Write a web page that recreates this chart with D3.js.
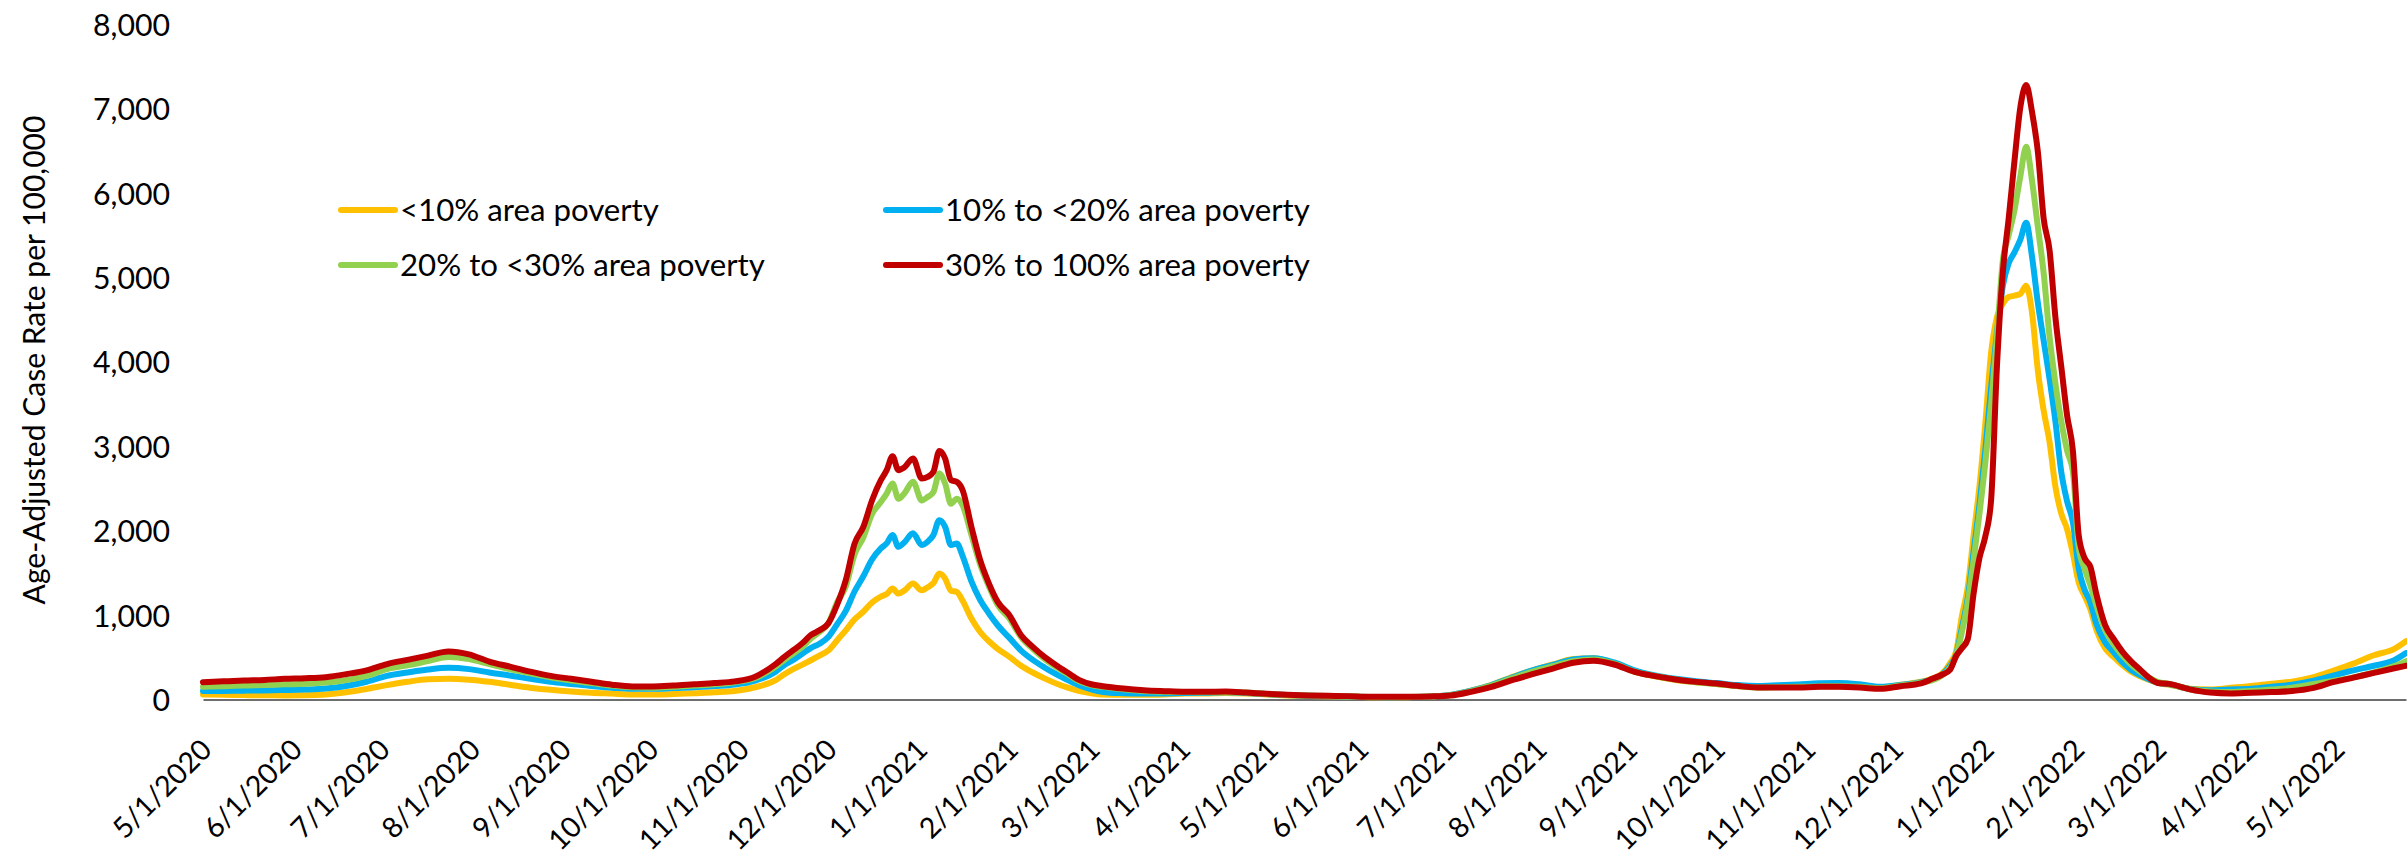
<!DOCTYPE html>
<html><head><meta charset="utf-8">
<script src="https://cdn.jsdelivr.net/npm/d3@7"></script>
<style>
body{margin:0;background:#fff}
svg{display:block}
</style>
</head><body>
<svg id="chart" width="2407" height="861"></svg>
<script>
// ---------- DATA ----------
const dates = [
  "2020-05-01","2020-05-08","2020-05-15","2020-05-22","2020-05-29","2020-06-05","2020-06-12","2020-06-19","2020-06-26","2020-07-03",
  "2020-07-10","2020-07-17","2020-07-24","2020-07-31","2020-08-07","2020-08-14","2020-08-21","2020-08-28","2020-09-04","2020-09-11",
  "2020-09-18","2020-09-25","2020-10-02","2020-10-09","2020-10-16","2020-10-23","2020-10-30","2020-11-06","2020-11-13",
  "2020-11-16","2020-11-19","2020-11-22","2020-11-25","2020-11-28","2020-12-01","2020-12-04","2020-12-07","2020-12-10","2020-12-13",
  "2020-12-16","2020-12-19","2020-12-21","2020-12-23","2020-12-25","2020-12-27","2020-12-30","2021-01-02","2021-01-04","2021-01-06",
  "2021-01-08","2021-01-10","2021-01-12","2021-01-14","2021-01-16","2021-01-19","2021-01-22","2021-01-25","2021-01-28","2021-02-01",
  "2021-02-05","2021-02-09","2021-02-13","2021-02-17","2021-02-21","2021-02-25","2021-03-01",
  "2021-03-05","2021-03-12","2021-03-19","2021-03-26","2021-04-02","2021-04-09","2021-04-16","2021-04-23","2021-04-30","2021-05-07",
  "2021-05-14","2021-05-21","2021-05-28","2021-06-04","2021-06-11","2021-06-18","2021-06-25","2021-07-02","2021-07-09","2021-07-16",
  "2021-07-23","2021-07-30","2021-08-06","2021-08-13","2021-08-20","2021-08-27","2021-09-03","2021-09-10","2021-09-17","2021-09-24",
  "2021-10-01","2021-10-08","2021-10-15","2021-10-22","2021-10-29","2021-11-05","2021-11-12","2021-11-19","2021-11-26","2021-12-03",
  "2021-12-10",
  "2021-12-14","2021-12-17","2021-12-20","2021-12-22","2021-12-24","2021-12-26","2021-12-28","2021-12-30","2022-01-01","2022-01-03",
  "2022-01-05","2022-01-07","2022-01-09","2022-01-11","2022-01-13","2022-01-15","2022-01-17","2022-01-19","2022-01-21","2022-01-23",
  "2022-01-25","2022-01-27","2022-01-29","2022-01-31","2022-02-02","2022-02-04","2022-02-06","2022-02-08","2022-02-11","2022-02-14",
  "2022-02-17","2022-02-20","2022-02-23","2022-02-26","2022-03-01",
  "2022-03-05","2022-03-12","2022-03-19","2022-03-26","2022-04-02","2022-04-09","2022-04-16","2022-04-23","2022-04-30","2022-05-07",
  "2022-05-14","2022-05-21","2022-05-25"
];

const povertyUnder10 = [
  60,55,52,50,48,50,60,85,125,170,210,240,245,235,210,175,140,115,95,80,70,60,58,65,75,85,100,145,230,
  300,360,410,465,520,580,700,820,950,1040,1150,1220,1250,1315,1255,1290,1374,1295,1330,1380,1493,1433,1290,1275,1170,960,800,690,600,505,400,320,250,190,140,100,75,
  60,55,55,60,70,72,78,72,60,48,42,38,34,28,26,28,35,55,105,175,265,345,415,480,490,430,330,275,232,205,185,160,145,150,155,168,172,160,140,175,210,
  248,301,433,565,988,1332,1941,2523,3263,4109,4532,4691,4770,4786,4807,4903,4585,3898,3422,3052,2523,2205,2020,1729,1385,1227,1068,830,608,502,407,328,275,233,196,
  175,128,120,138,160,188,212,262,340,425,525,600,690
];
const poverty10to20 = [
  100,102,105,108,112,118,130,160,210,280,320,355,375,360,320,285,245,210,185,160,140,126,126,135,145,160,178,225,330,
  410,470,540,610,660,740,890,1050,1280,1460,1660,1790,1850,1950,1810,1860,1970,1830,1870,1950,2125,2046,1830,1850,1700,1400,1180,1020,880,730,580,470,380,300,230,165,120,
  90,75,70,72,78,80,85,78,64,52,44,40,36,30,28,30,36,55,105,172,260,345,410,475,490,440,345,285,245,215,195,172,160,168,178,192,196,180,150,172,205,
  240,290,400,530,850,1200,1750,2300,2950,3700,4350,4900,5170,5300,5450,5650,5250,4700,4250,3800,3300,2700,2350,2100,1550,1300,1150,900,680,560,440,350,290,240,200,
  180,125,110,118,128,150,175,220,282,345,400,465,550
];
const poverty20to30 = [
  150,158,165,172,180,186,200,230,280,360,405,455,505,480,420,360,310,262,225,195,165,145,140,150,165,180,205,255,390,
  470,545,620,720,800,900,1150,1340,1720,1920,2200,2340,2440,2560,2380,2440,2580,2360,2400,2460,2680,2560,2320,2380,2300,1950,1600,1340,1120,960,740,600,480,385,300,215,170,
  150,120,100,92,88,88,90,82,66,54,46,42,38,31,30,30,35,52,100,165,250,330,395,455,475,425,330,278,236,205,185,160,142,145,150,155,158,150,135,165,200,
  230,280,380,520,800,1150,1650,2200,2800,3500,4300,5200,5500,5800,6200,6550,6150,5600,5050,4300,3750,3300,2950,2700,1800,1550,1350,1120,830,650,520,410,330,260,210,
  185,122,95,88,100,118,140,180,220,262,322,395,455
];
const poverty30to100 = [
  205,215,225,232,245,252,265,300,345,420,470,520,570,535,450,390,330,280,245,210,175,155,155,165,180,195,215,270,420,
  505,584,663,762,820,900,1120,1414,1848,2046,2362,2599,2718,2883,2718,2749,2856,2619,2638,2698,2946,2856,2599,2579,2480,2046,1651,1374,1157,999,762,624,505,406,316,229,181,
  158,130,110,99,91,91,95,83,67,55,47,43,40,32,32,32,36,47,91,150,229,300,367,435,460,415,328,277,237,209,190,162,142,142,142,150,150,142,126,158,190,
  248,290,354,513,608,714,1253,1676,1930,2364,3950,5061,5696,6384,7018,7283,6965,6490,5696,5326,4532,3950,3369,2946,1941,1676,1570,1253,883,714,565,449,354,259,196,
  185,120,82,72,80,88,100,135,205,260,315,370,400
];

const seriesNames = ["<10% area poverty","10% to <20% area poverty","20% to <30% area poverty","30% to 100% area poverty"];
const seriesColors = ["#FFC000","#00B0F0","#92D050","#C00000"];
const seriesValues = [povertyUnder10, poverty10to20, poverty20to30, poverty30to100];

const yTicks = [0,1000,2000,3000,4000,5000,6000,7000,8000];
const xTickDates = ["2020-05-01","2020-06-01","2020-07-01","2020-08-01","2020-09-01","2020-10-01","2020-11-01","2020-12-01",
  "2021-01-01","2021-02-01","2021-03-01","2021-04-01","2021-05-01","2021-06-01","2021-07-01","2021-08-01","2021-09-01",
  "2021-10-01","2021-11-01","2021-12-01","2022-01-01","2022-02-01","2022-03-01","2022-04-01","2022-05-01"];
const yTitle = "Age-Adjusted Case Rate per 100,000";

// ---------- CHART ----------
const FONT = "Lato, 'Open Sans', sans-serif";
const svg = d3.select("#chart");
svg.append("rect").attr("width",2407).attr("height",861).attr("fill","#fff");
const parse = d3.utcParse("%Y-%m-%d");

// font size so that a sample string renders at a given width
function fitSize(sample, targetWidth){
  const t = svg.append("text").attr("font-family",FONT).attr("font-size",30).text(sample);
  const w = t.node().getComputedTextLength();
  t.remove();
  return w > 0 ? 30 * targetWidth / w : 30;
}
const tickSize = fitSize("8,000", 77);
const titleSize = fitSize(yTitle, 489);
const legendSize = fitSize("20% to <30% area poverty", 365);
const xLabelSize = fitSize("10/1/2020", 142);

const x = d3.scaleUtc().domain([parse("2020-05-01"), parse("2022-05-25")]).range([203, 2406]);
const y = d3.scaleLinear().domain([0, 8000]).range([699.5, 24.5]);

// y axis (labels only)
const gy = svg.append("g").attr("transform","translate(203,0)")
  .call(d3.axisLeft(y).tickValues(yTicks).tickFormat(d3.format(",")).tickSize(0).tickPadding(33));
gy.select(".domain").remove();
gy.selectAll("text").attr("font-family", FONT).attr("font-size", tickSize).attr("fill","#000").attr("dy","0.36em");

// x axis
const gx = svg.append("g").attr("transform","translate(0,699.5)")
  .call(d3.axisBottom(x).tickValues(xTickDates.map(parse)).tickFormat(d3.utcFormat("%-m/%-d/%Y")).tickSize(0).tickSizeOuter(0));
gx.select(".domain").attr("stroke","#6e6e6e").attr("stroke-width",2.2);
gx.selectAll("text")
  .attr("font-family", FONT).attr("font-size", xLabelSize).attr("fill","#000")
  .attr("text-anchor","end").attr("x",0).attr("y",0).attr("dy",null)
  .attr("transform","translate(10,52) rotate(-45)");

// y title
svg.append("text").attr("transform","translate(45,360) rotate(-90)")
  .attr("text-anchor","middle").attr("font-family",FONT).attr("font-size",titleSize).attr("fill","#000")
  .text(yTitle);

// lines
const line = d3.line().x((d,i)=>x(parse(dates[i]))).y(d=>y(d)).curve(d3.curveMonotoneX);
seriesValues.forEach((vals,k)=>{
  svg.append("path").datum(vals).attr("d", line)
    .attr("fill","none").attr("stroke", seriesColors[k]).attr("stroke-width",6)
    .attr("stroke-linejoin","round").attr("stroke-linecap","round");
});

// legend
const legendPos = [[341,210],[886,210],[341,265],[886,265]];
seriesNames.forEach((name,k)=>{
  const [lx,ly] = legendPos[k];
  svg.append("line").attr("x1",lx).attr("x2",lx+54).attr("y1",ly).attr("y2",ly)
    .attr("stroke",seriesColors[k]).attr("stroke-width",6).attr("stroke-linecap","round");
  svg.append("text").attr("x",lx+59).attr("y",ly+11).attr("font-family",FONT).attr("font-size",legendSize)
    .attr("fill","#000").text(name);
});
</script>
</body></html>
